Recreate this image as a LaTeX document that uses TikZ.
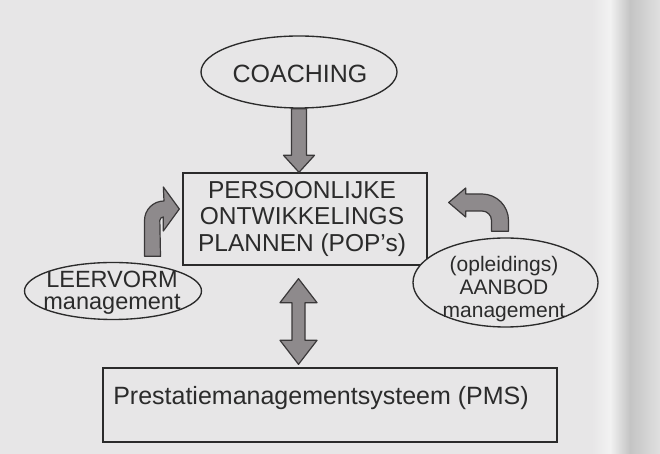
\documentclass[tikz,border=0pt]{standalone}
\usepackage{fontspec}
\setmainfont{Liberation Sans}
\usetikzlibrary{calc,shapes.geometric}
\definecolor{paper}{HTML}{E7E6E7}
\definecolor{ink}{HTML}{2B2B2B}
\definecolor{arrowfill}{HTML}{8E8A8C}
\definecolor{arrowline}{HTML}{3A3839}
\definecolor{edgelight}{HTML}{F2F2F2}
\definecolor{edgedark}{HTML}{C4C4C4}
\definecolor{edgeend}{HTML}{E0E0E0}

\begin{document}
\begin{tikzpicture}[x=1pt,y=1pt,
  outline/.style={draw=ink, line width=1.35pt, fill=paper, inner sep=0pt},
  oval/.style={outline, ellipse},
  panel/.style={outline, rectangle},
  caption/.style={text=ink, inner sep=0pt, align=center},
  fat/.style={fill=arrowfill, draw=arrowline, line width=1.2pt, line join=round},
]
% paper and the page edge on the right
\fill[paper] (0,0) rectangle (660,454);
\useasboundingbox (0,0) rectangle (660,454);
\shade[left color=paper, right color=edgelight] (592,0) rectangle (610,454);
\shade[left color=edgelight, right color=edgedark] (610,0) rectangle (630,454);
\shade[left color=edgedark, right color=edgeend] (630,0) rectangle (660,454);

% shapes
\node[oval, minimum width=196pt, minimum height=72pt] (coach) at (299,382) {};
\node[panel, minimum width=244pt, minimum height=92pt] (pop) at (305,235) {};
\node[oval, minimum width=177pt, minimum height=57pt] (leer) at (113,163) {};
\node[oval, minimum width=185pt, minimum height=89pt] (aanbod) at (505.5,171.5) {};
\node[panel, minimum width=454pt, minimum height=74pt] (pms) at (330,49) {};

% texts
\node[caption, font=\fontsize{25}{27}\selectfont] (coach-t) at (300,380.5) {COACHING};
\node[caption, font=\fontsize{24.5}{26.5}\selectfont] (pop-t) at (302,235.5)
  {PERSOONLIJKE\\ONTWIKKELINGS\\PLANNEN (POP's)};
\node[caption, font=\fontsize{23.5}{21.5}\selectfont] (leer-t) at (112,161.5)
  {LEERVORM\\management};
\node[caption, font=\fontsize{21}{23}\selectfont] (aanbod-t) at (504,165)
  {(opleidings)\\AANBOD\\management};
\node[caption, font=\fontsize{25}{28}\selectfont] (pms-t) at (321,56)
  {Prestatiemanagementsysteem (PMS)};

% COACHING feeds the plans
\filldraw[fat] let \p1=(coach.south), \p2=(coach.south |- pop.north) in
  (\x1-7.5pt,\y1) -- (\x1-7.5pt,\y2+17pt) -- (\x1-15.5pt,\y2+17pt) -- (\x1,\y2)
  -- (\x1+15.5pt,\y2+17pt) -- (\x1+7.5pt,\y2+17pt) -- (\x1+7.5pt,\y1) -- cycle;

% two-way link between the plans and the PMS
\coordinate (dtop) at ($(pop.south)+(-6.5,-13)$);
\coordinate (dbot) at ($(dtop |- pms.north)+(0,3)$);
\filldraw[fat] let \p1=(dtop), \p2=(dbot) in
  (\x1,\y1) -- (\x1+18.5pt,\y1-24pt) -- (\x1+6.5pt,\y1-24pt)
  -- (\x2+6.5pt,\y2+24pt) -- (\x2+18.5pt,\y2+24pt) -- (\x2,\y2)
  -- (\x2-18.5pt,\y2+24pt) -- (\x2-6.5pt,\y2+24pt)
  -- (\x1-6.5pt,\y1-24pt) -- (\x1-18.5pt,\y1-24pt) -- cycle;

% bent arrow from LEERVORM management
\coordinate (lbase) at ($(leer.north)+(39.5,5.5)$);
\coordinate (ltip) at ($(pop.west)+(-3,10)$);
\filldraw[fat] let \p1=(lbase), \p2=(ltip) in
  (\x1-8pt,\y1) -- (\x1-8pt,\y2-11.5pt) arc[start angle=180,end angle=90,radius=19.5pt]
  -- (\x2-16pt,\y2+22pt) -- (\x2,\y2) -- (\x2-16pt,\y2-22pt) -- (\x2-16pt,\y2-8pt)
  arc[start angle=90,end angle=180,radius=3.5pt] -- (\x1+8pt,\y1) -- cycle;

% bent arrow from AANBOD management
\coordinate (rbase) at ($(aanbod.north)+(-5.5,6)$);
\coordinate (rtip) at ($(pop.east)+(21,16.5)$);
\filldraw[fat] let \p1=(rbase), \p2=(rtip) in
  (\x1+8.5pt,\y1) -- (\x1+8.5pt,\y2-18pt) arc[start angle=0,end angle=90,radius=26.5pt]
  -- (\x2+17pt,\y2+8.5pt) -- (\x2+17pt,\y2+14.5pt) -- (\x2,\y2)
  -- (\x2+17pt,\y2-14.5pt) -- (\x2+17pt,\y2-8.5pt) -- (\x1-18pt,\y2-8.5pt)
  arc[start angle=90,end angle=0,radius=9.5pt] -- (\x1-8.5pt,\y1) -- cycle;
\end{tikzpicture}
\end{document}
